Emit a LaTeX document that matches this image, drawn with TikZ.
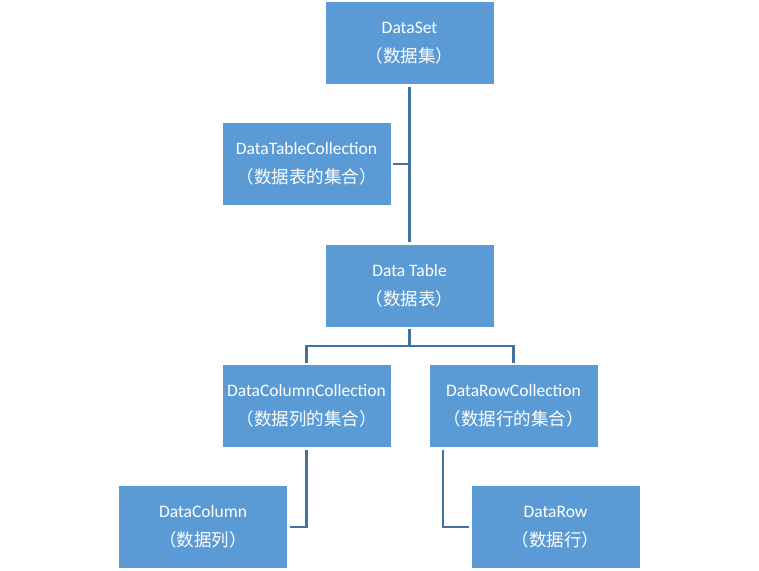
\documentclass[tikz,border=0pt]{standalone}
\usepackage{fontspec}
\setmainfont{Carlito}
\newfontfamily\cjk{Noto Sans CJK SC}
\newcommand{\zh}[1]{{\cjk\fontsize{17.5}{29}\selectfont #1}}
\definecolor{boxblue}{HTML}{5B9BD5}
\definecolor{linkblue}{HTML}{41719C}
\begin{document}
\begin{tikzpicture}[x=1pt,y=-1pt,
  box/.style={draw=none,fill=boxblue,text=white,minimum width=168pt,minimum height=82pt,
    inner sep=0pt,outer sep=2.5pt,align=center,font=\fontsize{17.5}{29}\selectfont},
  link/.style={draw=linkblue,line width=2.2pt}]
\useasboundingbox (0,0) rectangle (759,570);
\node[box] (ds)  at (409.5,43)  {DataSet\\\zh{（数据集）}};
\node[box] (dtc) at (306.5,164) {DataTableCollection\\\zh{（数据表的集合）}};
\node[box] (dt)  at (409.5,285.5) {Data Table\\\zh{（数据表）}};
\node[box] (dcc) at (306.5,406) {DataColumnCollection\\\zh{（数据列的集合）}};
\node[box] (drc) at (513.5,406) {DataRowCollection\\\zh{（数据行的集合）}};
\node[box] (dc)  at (203,527)   {DataColumn\\\zh{（数据列）}};
\node[box] (dr)  at (555.5,527) {DataRow\\\zh{（数据行）}};
\coordinate (bus) at (409.5,346);
\draw[link] (ds.south) -- (dt.north);
\draw[link] (dtc.east) -- (ds.south |- dtc.east);
\draw[link] (dt.south) -- (bus);
\draw[link] (dcc.north) |- (bus) -| (drc.north);
\draw[link] (dcc.south) |- (dc.east);
\draw[link] ([xshift=16pt]drc.south west) |- (dr.west);
\end{tikzpicture}
\end{document}
